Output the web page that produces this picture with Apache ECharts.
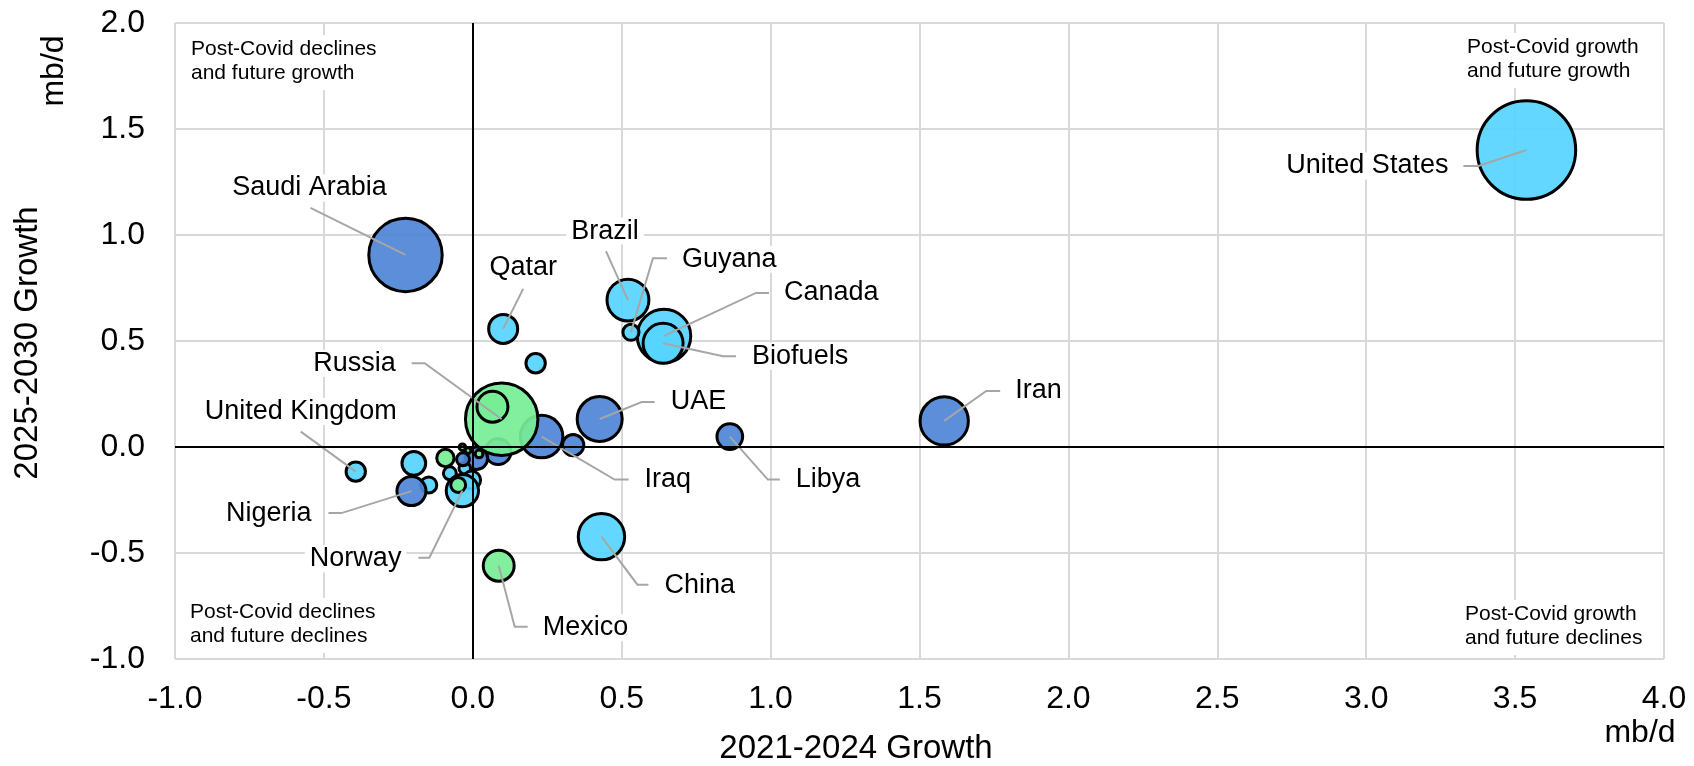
<!DOCTYPE html>
<html>
<head>
<meta charset="utf-8">
<script src="https://cdn.jsdelivr.net/npm/echarts@6/dist/echarts.min.js"></script>
<style>
  html, body { margin: 0; padding: 0; background: #fff; }
  #chart { width: 1694px; height: 766px; }
</style>
</head>
<body>
<div id="chart"></div>
<script>
// Supply growth by producer: 2021-2024 change vs 2025-2030 change (mb/d),
// bubble area proportional to current supply (mb/d).
const names = [
  'United States', 'Saudi Arabia', 'Canada', 'Iran', 'China', 'UAE', 'Iraq', 'Brazil', 'Biofuels',
  '', '', '', '', '', '',
  'Russia', '',
  '', '', 'Nigeria', '', '', '', '', '',
  'Norway', '', 'Mexico', 'Qatar', 'Libya', 'United Kingdom', 'Guyana', ''
];
const growth2124 = [
  3.538, -0.226, 0.642, 1.583, 0.432, 0.426, 0.231, 0.521, 0.639,
  0.085, 0.012, 0.337, 0.021, -0.035, -0.016,
  0.097, 0.066,
  -0.198, -0.148, -0.206, -0.092, -0.077, -0.027, -0.033, -0.004,
  -0.035, -0.049, 0.087, 0.102, 0.863, -0.393, 0.531, 0.211
];
const growth2530 = [
  1.401, 0.906, 0.524, 0.123, -0.423, 0.132, 0.049, 0.693, 0.489,
  -0.022, -0.053, 0.009, -0.033, -0.001, -0.017,
  0.131, 0.190,
  -0.077, -0.179, -0.208, -0.052, -0.124, -0.100, -0.058, -0.156,
  -0.206, -0.179, -0.560, 0.557, 0.049, -0.116, 0.541, 0.395
];
const supply = [
  21.0, 11.66, 6.19, 5.05, 4.65, 4.38, 3.91, 3.80, 3.46,
  1.43, 1.10, 0.98, 0.13, 0.09, 0.07,
  11.35, 2.07,
  1.22, 0.56, 1.82, 0.65, 0.36, 0.29, 0.36, 0.70,
  2.25, 0.48, 2.07, 1.82, 1.43, 0.81, 0.56, 0.81
];
const group = [
  'N', 'O', 'N', 'O', 'N', 'O', 'O', 'N', 'N',
  'O', 'O', 'O', 'P', 'P', 'P',
  'P', 'P',
  'N', 'N', 'O', 'P', 'N', 'N', 'O', 'N',
  'N', 'P', 'P', 'N', 'O', 'N', 'N', 'N'
];

// Axis ranges
const X_MIN = -1, X_MAX = 4, X_STEP = 0.5;
const Y_MIN = -1, Y_MAX = 2, Y_STEP = 0.5;

const FONT = '"Liberation Sans", Arial, Helvetica, sans-serif';
const SIZE_K = 21.5; // bubble diameter per sqrt(mb/d)

// O = OPEC, N = non-OPEC+, P = non-OPEC members of OPEC+
const COLORS = {
  O: 'rgba(78,132,214,0.92)',
  N: 'rgba(86,212,255,0.92)',
  P: 'rgba(118,238,150,0.92)'
};

// Leader line bends and label anchors, in pixels from the bubble centre
const labelLayout = {
  'United States':  { path: [[-48, 16], [-63, 16]],  text: [-73, 16],  align: 'right' },
  'Saudi Arabia':   { path: [[-95, -47]],            text: [-96, -67], align: 'center' },
  'Russia':         { path: [[-77, -56], [-90, -56]], text: [-101, -56], align: 'right' },
  'Canada':         { path: [[92, -43], [105, -43]], text: [115, -43], align: 'left' },
  'Iran':           { path: [[42, -30], [56, -30]],  text: [66, -30],  align: 'left' },
  'China':          { path: [[36, 48], [47, 48]],    text: [58, 49],   align: 'left' },
  'UAE':            { path: [[42, -17], [55, -17]],  text: [66, -17],  align: 'left' },
  'Iraq':           { path: [[73, 43], [87, 43]],    text: [98, 43],   align: 'left' },
  'Brazil':         { path: [[-22, -49]],            text: [-23, -69], align: 'center' },
  'Biofuels':       { path: [[60, 13], [73, 13]],    text: [84, 13],   align: 'left' },
  'Norway':         { path: [[-33, 67], [-44, 67]],  text: [-56, 68],  align: 'right' },
  'Mexico':         { path: [[16, 61], [29, 61]],    text: [39, 62],   align: 'left' },
  'Qatar':          { path: [[20, -40]],             text: [20, -61],  align: 'center' },
  'Nigeria':        { path: [[-70, 22], [-83, 22]],  text: [-95, 22],  align: 'right' },
  'Libya':          { path: [[38, 43], [50, 43]],    text: [61, 43],   align: 'left' },
  'United Kingdom': { path: [[-55, -40]],            text: [-55, -60], align: 'center' },
  'Guyana':         { path: [[22, -74], [36, -74]],  text: [46, -73],  align: 'left' }
};

const bubbles = names.map((n, i) => ({
  name: n,
  value: [growth2124[i], growth2530[i], supply[i]],
  itemStyle: { color: COLORS[group[i]] }
}));

const labelled = names
  .map((n, i) => ({ name: n, value: [growth2124[i], growth2530[i]] }))
  .filter(d => d.name && labelLayout[d.name]);

const chart = echarts.init(document.getElementById('chart'), null, { renderer: 'canvas' });

const noteStyle = {
  font: '21px ' + FONT,
  fill: '#000',
  lineHeight: 24,
  backgroundColor: '#fff',
  padding: [2, 6, 5, 6],
  align: 'left',
  verticalAlign: 'top'
};

chart.setOption({
  animation: false,
  backgroundColor: '#fff',
  grid: { left: 175, right: 30, top: 23, bottom: 107, containLabel: false, outerBoundsMode: 'none' },
  xAxis: {
    type: 'value', min: X_MIN, max: X_MAX, interval: X_STEP,
    axisLine: { show: false }, axisTick: { show: false },
    splitLine: { show: true, lineStyle: { color: '#d9d9d9', width: 2 } },
    axisLabel: {
      formatter: v => v.toFixed(1), fontSize: 32, fontFamily: FONT, color: '#000',
      margin: 24, showMinLabel: true, showMaxLabel: true
    }
  },
  yAxis: {
    type: 'value', min: Y_MIN, max: Y_MAX, interval: Y_STEP,
    axisLine: { show: false }, axisTick: { show: false },
    splitLine: { show: true, lineStyle: { color: '#d9d9d9', width: 2 } },
    axisLabel: {
      formatter: v => v.toFixed(1), fontSize: 32, fontFamily: FONT, color: '#000',
      margin: 30, showMinLabel: true, showMaxLabel: true
    }
  },
  series: [
    {
      // zero lines beneath the bubbles
      type: 'line', data: [], z: 1, silent: true,
      markLine: {
        silent: true, symbol: ['none', 'none'], label: { show: false },
        lineStyle: { color: '#000', width: 2, type: 'solid' },
        data: [{ xAxis: 0 }, { yAxis: 0 }]
      }
    },
    {
      type: 'scatter', z: 2,
      data: bubbles,
      symbolSize: v => SIZE_K * Math.sqrt(v[2]),
      itemStyle: { borderColor: '#000', borderWidth: 3, opacity: 1 },
      emphasis: { disabled: true }
    },
    {
      type: 'custom', z: 3, clip: false, silent: true,
      data: labelled,
      renderItem: (params, api) => {
        const name = labelled[params.dataIndex].name;
        const L = labelLayout[name];
        const c = api.coord([api.value(0), api.value(1)]);
        const pts = [[c[0], c[1]]].concat(L.path.map(p => [c[0] + p[0], c[1] + p[1]]));
        return {
          type: 'group',
          children: [
            {
              type: 'text',
              style: {
                x: c[0] + L.text[0], y: c[1] + L.text[1], text: name,
                font: '27px ' + FONT, fill: '#000',
                align: L.align, verticalAlign: 'middle',
                backgroundColor: '#fff', padding: [0, 5]
              }
            },
            {
              type: 'polyline',
              shape: { points: pts },
              style: { stroke: '#a6a6a6', lineWidth: 2, fill: null }
            }
          ]
        };
      }
    }
  ],
  graphic: [
    { type: 'text', x: 28, y: 343, rotation: Math.PI / 2,
      style: { text: '2025-2030 Growth', font: '33px ' + FONT, fill: '#000', align: 'center', verticalAlign: 'middle' } },
    { type: 'text', x: 54, y: 71, rotation: Math.PI / 2,
      style: { text: 'mb/d', font: '32px ' + FONT, fill: '#000', align: 'center', verticalAlign: 'middle' } },
    { type: 'text', x: 856, y: 749,
      style: { text: '2021-2024 Growth', font: '33px ' + FONT, fill: '#000', align: 'center', verticalAlign: 'middle' } },
    { type: 'text', x: 1640, y: 733,
      style: { text: 'mb/d', font: '32px ' + FONT, fill: '#000', align: 'center', verticalAlign: 'middle' } },
    { type: 'text', x: 185, y: 35, z: 10,
      style: Object.assign({ text: 'Post-Covid declines\nand future growth' }, noteStyle) },
    { type: 'text', x: 1461, y: 33, z: 10,
      style: Object.assign({ text: 'Post-Covid growth\nand future growth' }, noteStyle) },
    { type: 'text', x: 184, y: 598, z: 10,
      style: Object.assign({ text: 'Post-Covid declines\nand future declines' }, noteStyle) },
    { type: 'text', x: 1459, y: 600, z: 10,
      style: Object.assign({ text: 'Post-Covid growth\nand future declines' }, noteStyle) }
  ]
});
</script>
</body>
</html>
